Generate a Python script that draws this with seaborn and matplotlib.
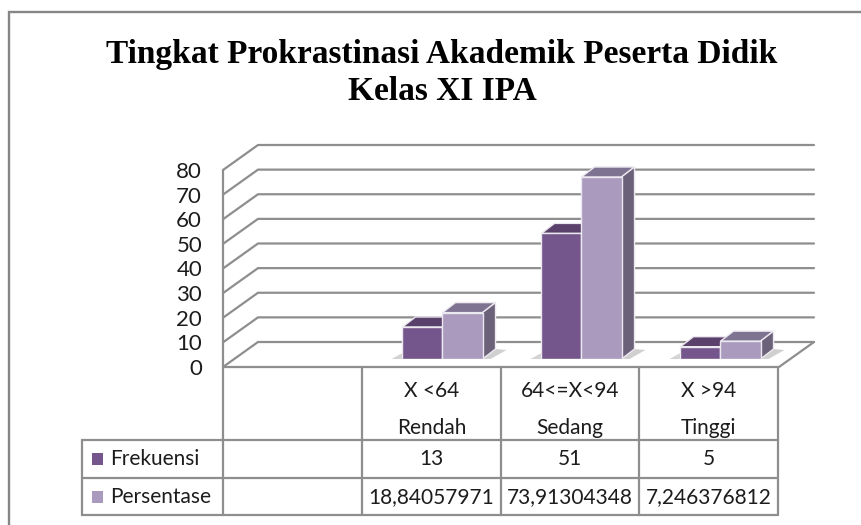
import matplotlib
matplotlib.use("Agg")
import matplotlib.pyplot as plt
import pandas as pd
import seaborn as sns
from matplotlib.patches import Polygon
from matplotlib.transforms import ScaledTranslation

TITLE = "Tingkat Prokrastinasi Akademik Peserta Didik\nKelas XI IPA"
score_ranges = ["X <64", "64<=X<94", "X >94"]
levels = ["Rendah", "Sedang", "Tinggi"]
frekuensi = [13, 51, 5]
persentase = [18.84057971, 73.91304348, 7.246376812]
frekuensi_text = ["13", "51", "5"]
persentase_text = ["18,84057971", "73,91304348", "7,246376812"]
y_ticks = [0, 10, 20, 30, 40, 50, 60, 70, 80]
series_names = ["Frekuensi", "Persentase"]

W, H = 862, 525
GRID = "#8e8e8e"
INK = "#1c1c1c"
FRONT = {"Frekuensi": "#75568C", "Persentase": "#AA9ABE"}
TOP = {"Frekuensi": "#5A416C", "Persentase": "#7F7392"}
SIDE = {"Frekuensi": "#54405F", "Persentase": "#6B6179"}
UI_FONT = ["Lato", "DejaVu Sans"]

sns.set_theme(style="white")
fig = plt.figure(figsize=(W / 100, H / 100), dpi=100, facecolor="white")

# overlay in pixel coordinates for the frame, title and data table
ov = fig.add_axes([0, 0, 1, 1], zorder=1)
ov.set_xlim(0, W)
ov.set_ylim(H, 0)
ov.axis("off")

# bar plane: category slots are 139 px wide, value scale is 197 px per 80 units
BX0, BX1, BY0, BY1 = 234, 790, 359, 162
ax = fig.add_axes([BX0 / W, 1 - BY0 / H, (BX1 - BX0) / W, (BY0 - BY1) / H], zorder=2)
ax.patch.set_alpha(0)
df = pd.DataFrame({
    "slot": score_ranges * 2,
    "series": [series_names[0]] * 3 + [series_names[1]] * 3,
    "value": frekuensi + persentase,
})
sns.barplot(data=df, x="slot", y="value", hue="series", order=score_ranges,
            hue_order=series_names, palette=FRONT, width=0.576, gap=0,
            saturation=1, dodge=True, legend=False, ax=ax,
            edgecolor="#ECE8F0", linewidth=1.0, zorder=5)
ax.set_xlim(-1.5, 2.5)
ax.set_ylim(0, 80)
ax.set_xlabel("")
ax.set_ylabel("")
ax.set_xticks([])
ax.set_yticks(y_ticks)
ax.tick_params(axis="y", length=0, pad=23, labelsize=16, labelcolor=INK)
for s in ax.spines.values():
    s.set_visible(False)
shift = ScaledTranslation(0, -8 / 100, fig.dpi_scale_trans)
for lab in ax.get_yticklabels():
    lab.set_fontfamily(UI_FONT)
    lab.set_transform(lab.get_transform() + shift)

ux = 1 / 139.0     # category units per pixel
uy = 80 / 197.0    # value units per pixel
fx, fy = -11 * ux, -8 * uy     # plot front plane relative to bar plane
bx, by = 24 * ux, 17 * uy      # back wall relative to bar plane
dx, dy = 13 * ux, 10 * uy      # bar depth

xl, xr = -1.5, 2.5
for v in y_ticks:
    ax.plot([xl + fx, xl + bx, xr + bx], [v + fy, v + by, v + by], color=GRID,
            lw=1.6, clip_on=False, zorder=1, solid_joinstyle="miter")
ax.plot([xl + fx, xl + fx], [fy, 80 + fy], color=GRID, lw=1.6, clip_on=False, zorder=1)
ax.plot([xr + fx, xr + bx], [fy, by], color=GRID, lw=1.6, clip_on=False, zorder=1)

# extrude each drawn bar into depth, deriving faces from the bar itself
bars = list(ax.patches)
for bar, name in zip(bars, [series_names[0]] * 3 + [series_names[1]] * 3):
    x0, w, h = bar.get_x(), bar.get_width(), bar.get_height()
    x1 = x0 + w
    ax.add_patch(Polygon([(x0, h), (x1, h), (x1 + dx, h + dy), (x0 + dx, h + dy)],
                         facecolor=TOP[name], edgecolor="#ECE8F0", lw=1.0,
                         clip_on=False, zorder=4 if name == "Frekuensi" else 4.5))
    if name == "Persentase":
        ax.add_patch(Polygon([(x1, 0), (x1 + dx, dy), (x1 + dx, h + dy), (x1, h)],
                             facecolor=SIDE[name], edgecolor="#ECE8F0", lw=1.0,
                             clip_on=False, zorder=4.5))
        ax.add_patch(Polygon([(x1, 0), (x1 + dx, dy), (x1 + 24 * ux, 9 * uy), (x1 + 8 * ux, 0)],
                             facecolor="#BDBDBD", edgecolor="none", alpha=0.7,
                             clip_on=False, zorder=3))
    else:
        ax.add_patch(Polygon([(x0, 0), (x0, 6 * uy), (x0 - 11 * ux, 0)],
                             facecolor="#C9C9C9", edgecolor="none", alpha=0.8,
                             clip_on=False, zorder=3))

# --- outer frame ---
ov.plot([9, 9, W], [H, 12, 12], color="#868686", lw=1.7, solid_joinstyle="miter")

ov.text(442, 73, TITLE, ha="center", va="center", family="Liberation Serif",
        weight="bold", fontsize=24, color="black", linespacing=1.28)

# --- data table ---
col = [223, 362, 501, 639, 778]
row = [367, 440, 478, 515]
LEFT = 82
lw = 1.6
for x in col[1:]:
    ov.plot([x, x], [row[0], row[3]], color=GRID, lw=lw)
ov.plot([col[0], col[0]], [row[0], row[3]], color=GRID, lw=lw)
ov.plot([col[0], col[4]], [row[0], row[0]], color=GRID, lw=lw)
for y in row[1:]:
    ov.plot([LEFT, col[4]], [y, y], color=GRID, lw=lw)
ov.plot([LEFT, LEFT], [row[1], row[3]], color=GRID, lw=lw)

tk = dict(ha="center", va="center", family=UI_FONT, fontsize=15, color=INK)
for i in range(3):
    cx = (col[i + 1] + col[i + 2]) / 2
    ov.text(cx, 391, score_ranges[i], **tk)
    ov.text(cx, 428, levels[i], **tk)
    ov.text(cx, 459, frekuensi_text[i], **tk)
    ov.text(cx, 497, persentase_text[i], **tk)

for name, yc in zip(series_names, [459, 497]):
    ov.add_patch(plt.Rectangle((92, yc - 6), 11, 12, facecolor=FRONT[name], edgecolor="none"))
    ov.text(110, yc, name, ha="left", va="center", family=UI_FONT, fontsize=15, color=INK)

fig.savefig("out.png", dpi=100, facecolor="white")
